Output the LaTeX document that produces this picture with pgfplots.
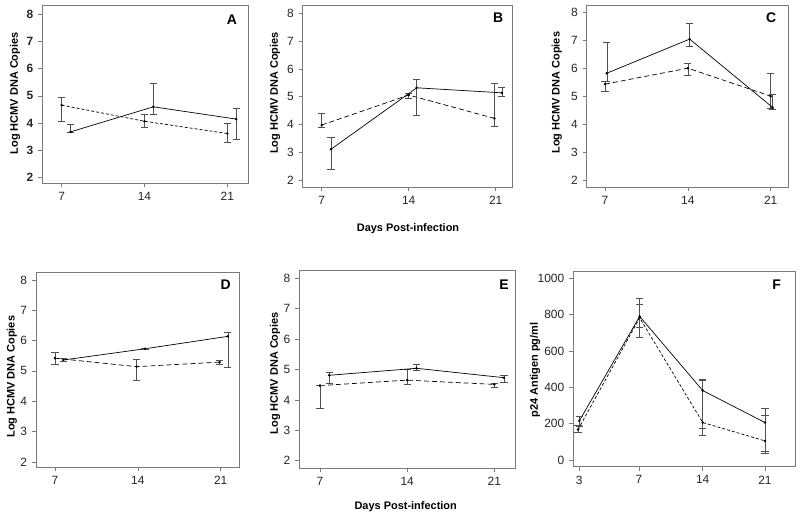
\documentclass[border=0pt]{standalone}
\usepackage{fontspec}
\setmainfont{Liberation Sans}
\usepackage{pgfplots}
\pgfplotsset{compat=1.18}
\definecolor{boxgray}{HTML}{7A7A7A}
\definecolor{errgray}{HTML}{505050}
\pgfplotsset{
 panel/.style={
  scale only axis,
  anchor=north west,
  axis line style={draw=boxgray, line width=0.7pt},
  tick align=outside,
  tick pos=left,
  major tick length=4bp,
  every tick/.style={draw=boxgray, line width=0.6pt},
  xtick={7,14,21}, ytick={2,3,...,8},
  tick label style={font=\fontsize{12}{13}\selectfont, text=black!85},
  xticklabel style={yshift=-1.5bp},
  yticklabel style={xshift=-1.5bp},
  /pgf/number format/assume math mode=true,
  /pgf/number format/1000 sep={},
  scaled y ticks=false,
  error bars/y dir=both, error bars/y explicit,
  error bars/error bar style={solid, draw=errgray, line width=0.6pt},
  error bars/error mark options={solid, rotate=90, mark size=3.6bp, draw=errgray, line width=0.6pt},
 },
 solidser/.style={black, line width=0.7pt, mark=*, mark size=0.9pt},
 dashser/.style={black, line width=0.7pt, dash pattern=on 5bp off 3bp, mark=*, mark size=0.9pt, mark options={solid}},
 fdashser/.style={black, line width=0.7pt, dash pattern=on 3bp off 2bp, mark=*, mark size=0.9pt, mark options={solid}},
}
\newcommand{\lab}{\fontsize{11}{12}\selectfont\bfseries}
\newcommand{\plab}{\fontsize{14}{15}\selectfont\bfseries}
\begin{document}
\begin{tikzpicture}
\useasboundingbox (0,0) rectangle (800bp,-515bp);
% ---------------- A
\begin{axis}[panel, at={(42.3bp,-5bp)}, width=206bp, height=178.3bp,
  xmin=5.36, xmax=22.78, ymin=1.79, ymax=8.34,
  yticklabel style={font=\fontsize{12}{13}\selectfont\bfseries}]
\addplot[fdashser] coordinates {
 (7,4.66) += (0,0.28) -= (0,0.60)
 (14,4.07) += (0,0.26) -= (0,0.24)
 (21,3.62) += (0,0.37) -= (0,0.33)};
\addplot[solidser] coordinates {
 (7.75,3.68) += (0,0.27) -= (0,0.0)
 (14.75,4.60) += (0,0.85) -= (0,0.28)
 (21.75,4.15) += (0,0.41) -= (0,0.74)};
\node at (rel axis cs:0.92,0.915) {\plab A};
\end{axis}
% ---------------- B
\begin{axis}[panel, at={(302.7bp,-5bp)}, width=209.6bp, height=182.3bp,
  xmin=5.47, xmax=22.34, ymin=1.74, ymax=8.3]
\addplot[dashser] coordinates {
 (7,3.98) += (0,0.41) -= (0,0.08)
 (14,5.06) += (0,0.08) -= (0,0.12)
 (20.9,4.22) += (0,1.28) -= (0,0.30)};
\addplot[solidser] coordinates {
 (7.75,3.11) += (0,0.43) -= (0,0.74)
 (14.65,5.32) += (0,0.30) -= (0,0.98)
 (21.5,5.14) += (0,0.20) -= (0,0.12)};
\node at (rel axis cs:0.932,0.929) {\plab B};
\end{axis}
% ---------------- C
\begin{axis}[panel, at={(586.7bp,-5bp)}, width=201.3bp, height=182bp,
  xmin=5.45, xmax=22.46, ymin=1.75, ymax=8.26]
\addplot[dashser] coordinates {
 (7,5.43) += (0,0.09) -= (0,0.24)
 (14,6.0) += (0,0.19) -= (0,0.24)
 (21,5.0) += (0,0.83) -= (0,0.45)};
\addplot[solidser] coordinates {
 (7.15,5.82) += (0,1.10) -= (0,0.30)
 (14.15,7.04) += (0,0.56) -= (0,0.24)
 (21.15,4.60) += (0,0.48) -= (0,0.07)};
\node at (rel axis cs:0.916,0.929) {\plab C};
\end{axis}
% ---------------- D
\begin{axis}[panel, at={(36bp,-272.7bp)}, width=203.3bp, height=194.6bp,
  xmin=5.4, xmax=22.57, ymin=1.82, ymax=8.24]
\addplot[dashser] coordinates {
 (7,5.42) += (0,0.18) -= (0,0.21)
 (13.9,5.14) += (0,0.24) -= (0,0.46)
 (20.9,5.29) += (0,0.05) -= (0,0.08)};
\addplot[solidser] coordinates {
 (7.7,5.36) += (0,0.04) -= (0,0.04)
 (14.6,5.73) += (0,0.03) -= (0,0.03)
 (21.6,6.14) += (0,0.13) -= (0,1.02)};
\node at (rel axis cs:0.933,0.937) {\plab D};
\end{axis}
% ---------------- E
\begin{axis}[panel, at={(299.3bp,-270.7bp)}, width=215.7bp, height=197.6bp,
  xmin=5.34, xmax=22.66, ymin=1.75, ymax=8.25]
\addplot[dashser] coordinates {
 (7,4.47) += (0,0.0) -= (0,0.73)
 (14,4.65) += (0,0.37) -= (0,0.14)
 (21,4.51) += (0,0.04) -= (0,0.11)};
\addplot[solidser] coordinates {
 (7.75,4.81) += (0,0.11) -= (0,0.26)
 (14.75,5.04) += (0,0.14) -= (0,0.05)
 (21.78,4.73) += (0,0.07) -= (0,0.15)};
\node at (rel axis cs:0.949,0.928) {\plab E};
\end{axis}
% ---------------- F
\begin{axis}[panel, at={(573.3bp,-271.7bp)}, width=221.7bp, height=195bp,
  xmin=-0.097, xmax=3.485, ymin=-37, ymax=1036,
  xtick={0,0.964,1.994,3}, xticklabels={3,7,14,21},
  ytick={0,200,400,600,800,1000}]
\addplot[fdashser] coordinates {
 (-0.02,168) += (0,22) -= (0,18)
 (0.975,782) += (0,73) -= (0,109)
 (1.994,206) += (0,234) -= (0,68)
 (3.0,105) += (0,142) -= (0,68)};
\addplot[solidser] coordinates {
 (0.0,215) += (0,25) -= (0,27)
 (0.975,790) += (0,98) -= (0,58)
 (1.994,382) += (0,64) -= (0,207)
 (3.0,206) += (0,80) -= (0,156)};
\node at (rel axis cs:0.917,0.932) {\plab F};
\end{axis}
% ---------------- labels
\node[rotate=90] at (15bp,-93.3bp) {\lab Log HCMV DNA Copies};
\node[rotate=90] at (275bp,-93bp) {\lab Log HCMV DNA Copies};
\node[rotate=90] at (556.7bp,-92.7bp) {\lab Log HCMV DNA Copies};
\node[rotate=90] at (11.7bp,-376.7bp) {\lab Log HCMV DNA Copies};
\node[rotate=90] at (275bp,-373.3bp) {\lab Log HCMV DNA Copies};
\node[rotate=90] at (535bp,-370bp) {\lab p24 Antigen pg/ml};
\node at (408bp,-229bp) {\lab Days Post-infection};
\node at (405.7bp,-506.7bp) {\lab Days Post-infection};
\end{tikzpicture}
\end{document}
